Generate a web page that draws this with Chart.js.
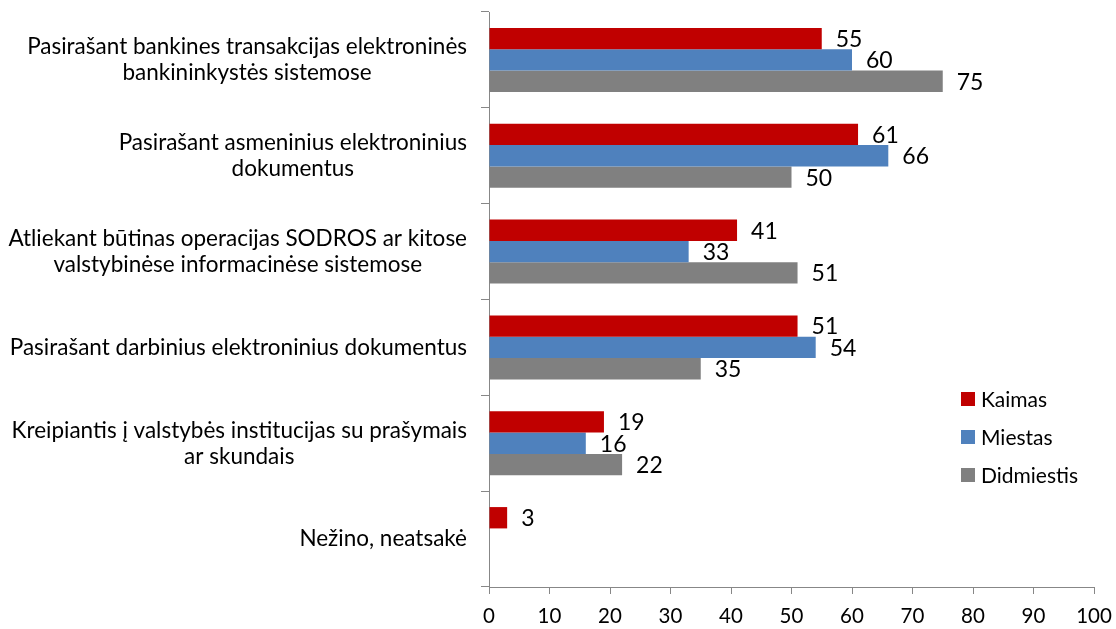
<!DOCTYPE html>
<html>
<head>
<meta charset="utf-8">
<script src="https://cdn.jsdelivr.net/npm/chart.js@4.4.0/dist/chart.umd.min.js"></script>
<style>
  body { margin: 0; background: #fff; }
  #wrap { width: 1116px; height: 629px; position: relative; }
</style>
</head>
<body>
<div id="wrap"><canvas id="chart"></canvas></div>
<script>
// data
const categories = [
  ['Pasirašant bankines transakcijas elektroninės', 'bankininkystės sistemose'],
  ['Pasirašant asmeninius elektroninius', 'dokumentus'],
  ['Atliekant būtinas operacijas SODROS ar kitose', 'valstybinėse informacinėse sistemose'],
  ['Pasirašant darbinius elektroninius dokumentus'],
  ['Kreipiantis į valstybės institucijas su prašymais', 'ar skundais'],
  ['Nežino, neatsakė']
];
const seriesNames = ['Kaimas', 'Miestas', 'Didmiestis'];
const kaimas = [55, 61, 41, 51, 19, 3];
const miestas = [60, 66, 33, 54, 16, null];
const didmiestis = [75, 50, 51, 35, 22, null];
const xMin = 0, xMax = 100, xStep = 10;

const colors = ['#C00000', '#4F81BD', '#808080'];
const FONT = 'Lato, "Liberation Sans", sans-serif';
const axisColor = '#878787';

// y labels: block right aligned, lines centered inside the block
const catLabels = {
  id: 'catLabels',
  afterDraw(chart) {
    const ctx = chart.ctx;
    const y = chart.scales.y;
    ctx.save();
    ctx.font = '22.5px ' + FONT;
    ctx.fillStyle = '#000';
    ctx.textAlign = 'center';
    ctx.textBaseline = 'middle';
    const right = y.right - 22;
    const lineH = 26;
    categories.forEach((lines, i) => {
      const cy = y.getPixelForValue(i);
      const w = Math.max(...lines.map(l => ctx.measureText(l).width));
      const cx = right - w / 2;
      lines.forEach((l, k) => {
        ctx.fillText(l, cx, cy - (lines.length - 1) * lineH / 2 + k * lineH);
      });
    });
    ctx.restore();
  }
};

// value labels at bar ends
const valueLabels = {
  id: 'valueLabels',
  afterDatasetsDraw(chart) {
    const ctx = chart.ctx;
    ctx.save();
    ctx.font = '23px ' + FONT;
    ctx.fillStyle = '#000';
    ctx.textAlign = 'left';
    ctx.textBaseline = 'middle';
    chart.data.datasets.forEach((ds, di) => {
      chart.getDatasetMeta(di).data.forEach((bar, i) => {
        const v = ds.data[i];
        if (v === null || v === undefined) return;
        ctx.fillText(String(v), bar.x + 14, bar.y + 1);
      });
    });
    ctx.restore();
  }
};

// legend on the right, over the plot
const sideLegend = {
  id: 'sideLegend',
  afterDraw(chart) {
    const ctx = chart.ctx;
    ctx.save();
    ctx.font = '21px ' + FONT;
    ctx.textBaseline = 'middle';
    ctx.textAlign = 'left';
    chart.data.datasets.forEach((ds, i) => {
      const cy = 399 + i * 38;
      ctx.fillStyle = ds.backgroundColor;
      ctx.fillRect(961, cy - 7, 14, 14);
      ctx.fillStyle = '#000';
      ctx.fillText(ds.label, 981, cy + 1);
    });
    ctx.restore();
  }
};

new Chart(document.getElementById('chart'), {
  type: 'bar',
  data: {
    labels: categories,
    datasets: [
      { label: seriesNames[0], data: kaimas, backgroundColor: colors[0] },
      { label: seriesNames[1], data: miestas, backgroundColor: colors[1] },
      { label: seriesNames[2], data: didmiestis, backgroundColor: colors[2] }
    ]
  },
  options: {
    indexAxis: 'y',
    responsive: true,
    maintainAspectRatio: false,
    animation: false,
    layout: { padding: { top: 12, right: 22, left: 0, bottom: 0 } },
    datasets: { bar: { categoryPercentage: 0.668, barPercentage: 1 } },
    plugins: { legend: { display: false }, tooltip: { enabled: false } },
    scales: {
      x: {
        min: xMin, max: xMax,
        ticks: { stepSize: xStep, color: '#000', font: { family: FONT, size: 20.5 }, padding: 10, maxRotation: 0 },
        grid: { drawOnChartArea: false, tickLength: 7, color: axisColor },
        border: { color: axisColor, width: 1 },
        afterFit(s) { s.height = 42; s.paddingLeft = 0; s.paddingRight = 0; }
      },
      y: {
        ticks: { display: false },
        grid: { drawOnChartArea: false, tickLength: 8, color: axisColor, offset: true },
        border: { color: axisColor, width: 1 },
        afterFit(s) { s.width = 489; }
      }
    }
  },
  plugins: [catLabels, valueLabels, sideLegend]
});
</script>
</body>
</html>
